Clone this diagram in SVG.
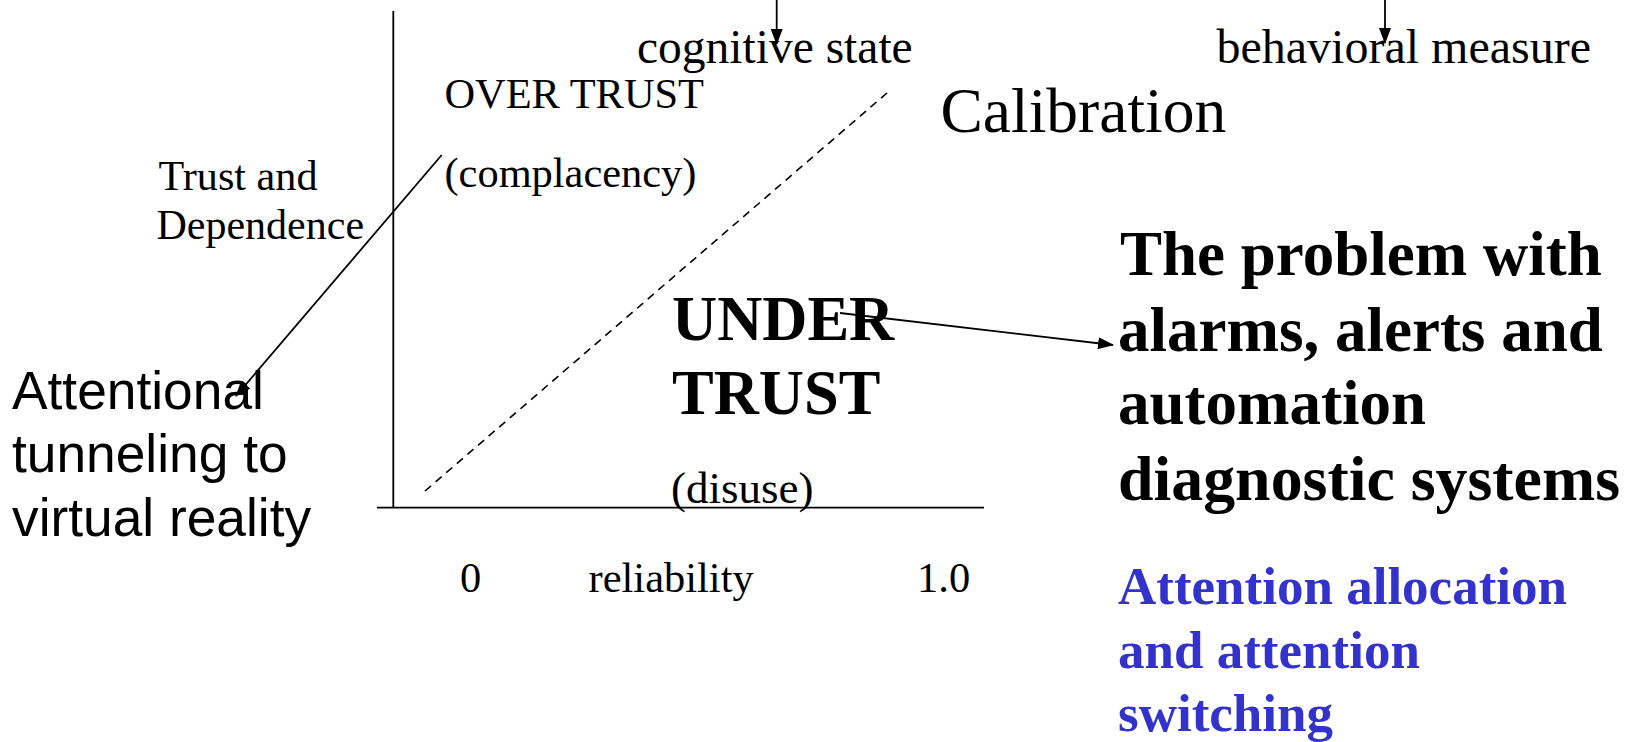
<svg xmlns="http://www.w3.org/2000/svg" width="1628" height="742" viewBox="0 0 1628 742">
  <style>
    .serif { font-family: "Liberation Serif", "Times New Roman", serif; fill: #000; }
    .sans { font-family: "Liberation Sans", Arial, sans-serif; fill: #000; }
    .bold { font-weight: bold; }
    .blue { fill: #3333CC; }
    .line { stroke: #000; stroke-width: 1.8; fill: none; }
    .dash { stroke: #000; stroke-width: 1.6; fill: none; stroke-dasharray: 8 6; }
  </style>
  <defs>
    <marker id="arrow" markerUnits="userSpaceOnUse" markerWidth="16" markerHeight="12" refX="15" refY="6" orient="auto">
      <path d="M0,0 L16,6 L0,12 z" fill="#000"/>
    </marker>
  </defs>

  <rect width="1628" height="742" fill="#fff"/>

  <!-- chart axes and calibration diagonal -->
  <g id="axes">
    <line class="line" x1="393.3" y1="11" x2="393.3" y2="508"/>
    <line class="line" x1="377" y1="507.7" x2="984" y2="507.7"/>
    <line class="dash" x1="425" y1="491" x2="887" y2="93"/>
  </g>

  <!-- connectors -->
  <g id="connectors">
    <line class="line" x1="776.7" y1="0" x2="776.7" y2="44" marker-end="url(#arrow)"/>
    <line class="line" x1="1385" y1="0" x2="1385" y2="43" marker-end="url(#arrow)"/>
    <line class="line" x1="441.7" y1="155" x2="236" y2="396" marker-end="url(#arrow)"/>
    <line class="line" x1="840" y1="313" x2="1113" y2="345" marker-end="url(#arrow)"/>
  </g>

  <g id="cognitive-state">
    <text class="serif" x="637" y="63" font-size="47.5">cognitive state</text>
  </g>
  <g id="behavioral-measure">
    <text class="serif" x="1216.5" y="63" font-size="48">behavioral measure</text>
  </g>
  <g id="calibration">
    <text class="serif" x="940.5" y="132" font-size="63.5">Calibration</text>
  </g>
  <g id="over-trust">
    <text class="serif" x="444.5" y="108" font-size="42.4">OVER TRUST</text>
    <text class="serif" x="444.5" y="186.5" font-size="42.4">(complacency)</text>
  </g>
  <g id="y-axis-label">
    <text class="serif" x="158.5" y="190" font-size="42.2">Trust and</text>
    <text class="serif" x="156.5" y="239.3" font-size="42">Dependence</text>
  </g>
  <g id="under-trust">
    <text class="serif bold" x="672" y="340" font-size="62.5">UNDER</text>
    <text class="serif bold" x="672" y="413.5" font-size="62.5">TRUST</text>
    <text class="serif" x="671" y="503" font-size="45">(disuse)</text>
  </g>
  <g id="x-axis-label">
    <text class="serif" x="460" y="592" font-size="42.5">0</text>
    <text class="serif" x="588.5" y="592" font-size="42.5">reliability</text>
    <text class="serif" x="917" y="592" font-size="42.5">1.0</text>
  </g>
  <g id="attentional-tunneling">
    <text class="sans" x="12" y="408.5" font-size="53.3">Attentional</text>
    <text class="sans" x="12" y="472" font-size="53.3">tunneling to</text>
    <text class="sans" x="12" y="535.5" font-size="53.3">virtual reality</text>
  </g>
  <g id="alarms-problem">
    <text class="serif bold" x="1120" y="275" font-size="63">The problem with</text>
    <text class="serif bold" x="1118" y="350.5" font-size="63">alarms, alerts and</text>
    <text class="serif bold" x="1118" y="424" font-size="63">automation</text>
    <text class="serif bold" x="1118" y="500" font-size="63" textLength="502" lengthAdjust="spacingAndGlyphs">diagnostic systems</text>
  </g>
  <g id="attention-allocation">
    <text class="serif bold blue" x="1118" y="604" font-size="53">Attention allocation</text>
    <text class="serif bold blue" x="1118" y="668" font-size="53">and attention</text>
    <text class="serif bold blue" x="1118" y="731" font-size="53">switching</text>
  </g>
</svg>
